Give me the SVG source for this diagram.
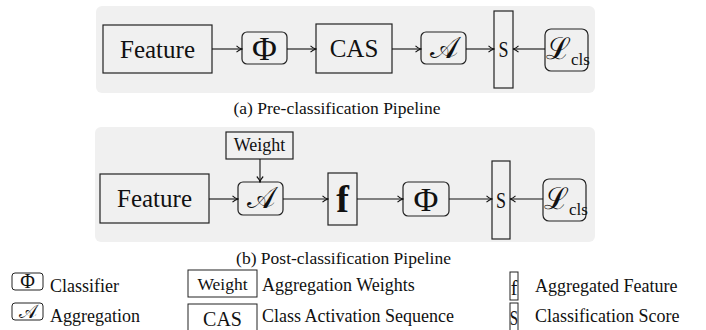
<svg xmlns="http://www.w3.org/2000/svg" width="706" height="330" viewBox="0 0 706 330">
<style>
text{font-family:"Liberation Serif","Times New Roman",serif;fill:#111}
.panel{fill:#f0f0f0;stroke:none}
.bx{fill:#f0f0f0;stroke:#222;stroke-width:1.2}
.lb{fill:#fff;stroke:#222;stroke-width:1}
.c{stroke:#111;stroke-width:1.1;fill:none;marker-end:url(#ah)}
.big{font-size:25px;text-anchor:middle}
.phi{font-size:34px;text-anchor:middle}
.cal{font-size:30px;text-anchor:middle}
.cap{font-size:17.5px;text-anchor:middle}
.leg{font-size:18px}
.mid{text-anchor:middle}
</style>
<defs>
<marker id="ah" viewBox="0 0 8 8" refX="7.5" refY="4" markerWidth="8" markerHeight="8" markerUnits="userSpaceOnUse" orient="auto">
<path d="M2,0.8 Q4.5,3.2 7.5,4 Q4.5,4.8 2,7.2" fill="none" stroke="#111" stroke-width="1.1"/>
</marker>
</defs>
<rect class="panel" x="96" y="6" width="499" height="87" rx="6"/>
<rect class="panel" x="95" y="127" width="500" height="115" rx="6"/>

<g id="a-feature"><rect class="bx" x="103" y="25" width="109" height="48"/><text class="big" x="157.5" y="58">Feature</text></g>
<g id="a-phi"><rect class="bx" x="242" y="32" width="45" height="32" rx="5"/><text class="phi" x="264.5" y="60">Φ</text></g>
<g id="a-cas"><rect class="bx" x="316" y="24" width="76" height="49"/><text class="big" x="354" y="57">CAS</text></g>
<g id="a-agg"><rect class="bx" x="421" y="32" width="45" height="32" rx="5"/><text class="cal" x="443.5" y="58">𝒜</text></g>
<g id="a-s"><rect class="bx" x="494" y="11" width="19" height="77"/><text class="mid" font-size="24" transform="translate(503.5,57) scale(0.75,1)">S</text></g>
<g id="a-loss"><rect class="bx" x="545" y="29" width="43" height="42" rx="6"/><text x="546" y="59" font-size="30">ℒ<tspan font-size="17" dy="6">cls</tspan></text></g>
<text class="cap" x="337" y="114">(a) Pre-classification Pipeline</text>

<g id="b-weight"><rect class="bx" x="226" y="132" width="67" height="27"/><text class="mid" x="259.5" y="151" font-size="18">Weight</text></g>
<g id="b-feature"><rect class="bx" x="100" y="174" width="109" height="49"/><text class="big" x="154.5" y="207">Feature</text></g>
<g id="b-agg"><rect class="bx" x="238" y="182" width="45" height="33" rx="5"/><text class="cal" x="260.5" y="208">𝒜</text></g>
<g id="b-f"><rect class="bx" x="328" y="173" width="29" height="52"/><text class="mid" x="342.5" y="212" font-size="38" font-weight="bold">f</text></g>
<g id="b-phi"><rect class="bx" x="403" y="182" width="46" height="34" rx="5"/><text class="phi" x="426" y="211">Φ</text></g>
<g id="b-s"><rect class="bx" x="492" y="161" width="18" height="78"/><text class="mid" font-size="24" transform="translate(501,208) scale(0.75,1)">S</text></g>
<g id="b-loss"><rect class="bx" x="543" y="179" width="43" height="42" rx="6"/><text x="544" y="209" font-size="30">ℒ<tspan font-size="17" dy="6">cls</tspan></text></g>
<text class="cap" x="343.5" y="264">(b) Post-classification Pipeline</text>

<g id="connectors">
<line class="c" x1="212" y1="49" x2="242" y2="49"/>
<line class="c" x1="287" y1="49" x2="316" y2="49"/>
<line class="c" x1="392" y1="49" x2="421" y2="49"/>
<line class="c" x1="466" y1="49" x2="494" y2="49"/>
<line class="c" x1="545" y1="49" x2="513" y2="49"/>
<line class="c" x1="209" y1="199" x2="238" y2="199"/>
<line class="c" x1="283" y1="199" x2="328" y2="199"/>
<line class="c" x1="357" y1="199" x2="403" y2="199"/>
<line class="c" x1="449" y1="199" x2="492" y2="199"/>
<line class="c" x1="543" y1="199" x2="510" y2="199"/>
<line class="c" x1="260" y1="159" x2="260" y2="182"/>
</g>

<g id="legend">
<g id="leg-phi"><rect class="lb" x="12" y="273" width="31" height="17" rx="3"/><text class="mid" x="27.5" y="288" font-size="20">Φ</text><text class="leg" x="50" y="292">Classifier</text></g>
<g id="leg-agg"><rect class="lb" x="12" y="303" width="31" height="17" rx="3"/><text class="mid" x="27.5" y="318" font-size="19">𝒜</text><text class="leg" x="50" y="322">Aggregation</text></g>
<g id="leg-weight"><rect class="lb" x="188" y="270" width="69" height="27"/><text class="mid" x="222.5" y="290" font-size="17.5">Weight</text><text class="leg" x="262" y="291">Aggregation Weights</text></g>
<g id="leg-cas"><rect class="lb" x="188" y="304" width="69" height="32"/><text class="mid" x="222.5" y="326" font-size="20">CAS</text><text class="leg" x="262" y="322">Class Activation Sequence</text></g>
<g id="leg-f"><rect class="lb" x="510" y="272" width="8" height="28"/><text class="mid" x="514" y="295" font-size="20">f</text><text class="leg" x="535" y="292">Aggregated Feature</text></g>
<g id="leg-s"><rect class="lb" x="510" y="303" width="8" height="32"/><text class="mid" font-size="20" transform="translate(514,325) scale(0.75,1)">S</text><text class="leg" x="535" y="322">Classification Score</text></g>
</g>
</svg>
